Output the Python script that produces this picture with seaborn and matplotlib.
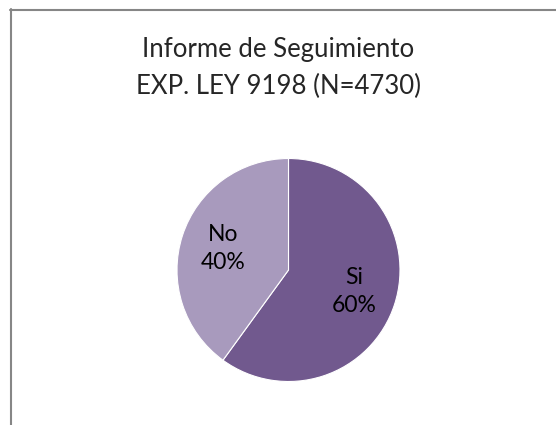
import numpy as np
import matplotlib
matplotlib.use("Agg")
import matplotlib.pyplot as plt
from matplotlib.lines import Line2D
import seaborn as sns

# data
categories = ["Si", "No"]
shares = [60, 40]
title_lines = ["Informe de Seguimiento", "EXP. LEY 9198 (N=4730)"]
slice_colors = ["#71598E", "#A89ABD"]

sns.set_theme(style="white")
plt.rcParams["font.family"] = ["Lato", "DejaVu Sans"]

W, H = 556, 425
fig = plt.figure(figsize=(W / 100, H / 100), dpi=100)
fig.patch.set_facecolor("white")

# pie axes, centre (288.5, 270) px, radius 111.5 px
cx, cy, r = 288.5, 270, 111.5
ax = fig.add_axes([(cx - r) / W, (H - cy - r) / H, 2 * r / W, 2 * r / H])
wedges, _ = ax.pie(
    shares,
    colors=slice_colors,
    startangle=90,
    counterclock=False,
    radius=1,
    wedgeprops=dict(edgecolor="white", linewidth=0.8),
)
ax.set_xlim(-1, 1)
ax.set_ylim(-1, 1)
ax.set_aspect("equal")
ax.axis("off")

# labels inside each slice
for w, cat, v in zip(wedges, categories, shares):
    mid = np.deg2rad((w.theta1 + w.theta2) / 2)
    ax.text(0.62 * np.cos(mid), 0.62 * np.sin(mid), f"{cat}\n{v}%",
            ha="center", va="center", fontsize=16.5, color="black", linespacing=1.4)

# title
fig.text(0.5, 1 - 49 / H, title_lines[0], ha="center", va="center", fontsize=18.5)
fig.text(0.5, 1 - 86 / H, title_lines[1], ha="center", va="center", fontsize=18.5)

# chart frame (cropped)
fig.add_artist(Line2D([10 / W, 1.0], [1 - 9.5 / H, 1 - 9.5 / H], color="#868686", lw=1.5,
                      transform=fig.transFigure))
fig.add_artist(Line2D([11 / W, 11 / W], [1 - 9 / H, 0.0], color="#868686", lw=1.5,
                      transform=fig.transFigure))

fig.savefig("out.png", dpi=100)
